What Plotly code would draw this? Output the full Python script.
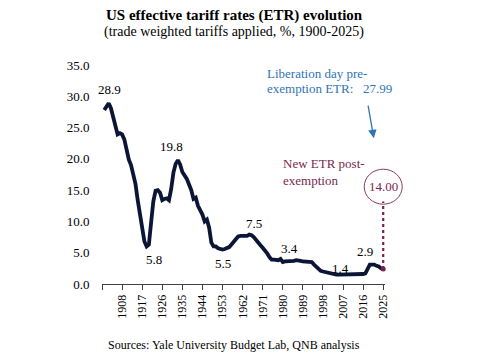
import plotly.graph_objects as go

# ---- data ----
years = list(range(1900, 2026))
etr = [27.8, 28.4, 28.9, 28.1, 26.8, 25.2, 23.9, 24.1, 23.9, 23.1,
       21.3, 19.9, 19.0, 17.7, 16.0, 13.4, 11.4, 9.6, 6.8, 6.0,
       6.3, 9.8, 13.2, 14.9, 15.0, 14.6, 13.4, 13.6, 13.7, 13.4,
       15.2, 17.8, 19.2, 19.8, 19.1, 17.9, 17.3, 16.8, 15.9, 15.0,
       13.6, 13.8, 12.5, 11.9, 11.1, 10.0, 10.3, 9.0, 6.6, 6.0,
       6.0, 5.7, 5.6, 5.5, 5.6, 5.7, 5.9, 6.3, 6.8, 7.3,
       7.6, 7.7, 7.7, 7.8, 7.7, 7.9, 7.8, 7.5, 7.0, 6.6,
       6.2, 5.8, 5.4, 4.9, 4.3, 3.9, 3.9, 3.9, 3.8, 4.0,
       3.5, 3.6, 3.6, 3.6, 3.7, 3.7, 3.8, 3.8, 3.7, 3.6,
       3.6, 3.6, 3.6, 3.5, 3.1, 2.7, 2.3, 2.1, 2.0, 1.9,
       1.8, 1.7, 1.6, 1.55, 1.5, 1.5, 1.5, 1.5, 1.5, 1.5,
       1.5, 1.5, 1.5, 1.5, 1.55, 1.6, 1.6, 1.7, 2.5, 3.1,
       3.1, 3.1, 2.9, 2.8, 2.5, 2.4]

label_years = [1902, 1919, 1933, 1953, 1967, 1980, 2006, 2020]
label_values = [28.9, 5.8, 19.8, 5.5, 7.5, 3.4, 1.4, 2.9]
label_xshift = [1, 7, -6, 0, 0, 7, 0, -7]
label_yshift = [14, -12, 14, -14, 14, 14, 7, 14]

post_year = 2025
post_start = 2.4
post_end = 13.2
post_etr = 14.00
pre_etr = 27.99

tick_years = list(range(1899, 2026, 9))
tick_text = [""] + [str(y) for y in tick_years[1:]]

x_range = [1899, 2025.8]
y_range = [0, 35]

FONT = "Liberation Serif, Times New Roman, serif"
NAVY = "#0B1535"
MAROON = "#7D1F50"
BLUE = "#2E75B6"

fig = go.Figure()
fig.add_trace(go.Scatter(x=years, y=etr, mode="lines",
                         line=dict(color=NAVY, width=3.8, shape="linear"),
                         hoverinfo="skip", showlegend=False))
fig.add_trace(go.Scatter(x=[post_year, post_year], y=[post_start, post_end],
                         mode="lines", line=dict(color=MAROON, width=2.2, dash="dot"),
                         hoverinfo="skip", showlegend=False, cliponaxis=False))
fig.add_trace(go.Scatter(x=[post_year], y=[post_start], mode="markers",
                         marker=dict(color=MAROON, size=5),
                         hoverinfo="skip", showlegend=False, cliponaxis=False))

ann = []
for yv, v, xs, ys in zip(label_years, label_values, label_xshift, label_yshift):
    ann.append(dict(x=yv, y=v, text=f"{v:.1f}", showarrow=False, xshift=xs, yshift=ys,
                    font=dict(family=FONT, size=13, color="#000000")))

# titles & source
ann.append(dict(xref="paper", yref="paper", x=0.467, y=1.228, yanchor="middle",
                text="<b>US effective tariff rates (ETR) evolution</b>",
                showarrow=False, font=dict(family=FONT, size=15, color="#000000")))
ann.append(dict(xref="paper", yref="paper", x=0.467, y=1.151, yanchor="middle",
                text="(trade weighted tariffs applied, %, 1900-2025)",
                showarrow=False, font=dict(family=FONT, size=14, color="#000000")))
ann.append(dict(xref="paper", yref="paper", x=0.467, y=-0.279, yanchor="middle",
                text="Sources: Yale University Budget Lab, QNB analysis",
                showarrow=False, font=dict(family=FONT, size=12, color="#000000")))

# blue annotation
ann.append(dict(x=1972.1, y=33.7, xanchor="left", yanchor="middle", text="Liberation day pre-", showarrow=False,
                font=dict(family=FONT, size=13, color=BLUE)))
ann.append(dict(x=1972.1, y=31.3, xanchor="left", yanchor="middle",
                text="exemption ETR:\u00a0\u00a0 " + f"{pre_etr:.2f}", showarrow=False,
                font=dict(family=FONT, size=13, color=BLUE)))
ann.append(dict(x=2020.8, y=23.3, ax=-6, ay=-34, text="", showarrow=True, arrowhead=2, arrowsize=1.3,
                arrowwidth=1.3, arrowcolor=BLUE, standoff=0))

# maroon annotation
ann.append(dict(x=1979.1, y=19.3, xanchor="left", yanchor="middle", text="New ETR post-", showarrow=False,
                font=dict(family=FONT, size=13, color=MAROON)))
ann.append(dict(x=1979.1, y=16.6, xanchor="left", yanchor="middle", text="exemption", showarrow=False,
                font=dict(family=FONT, size=13, color=MAROON)))
ann.append(dict(x=post_year, y=15.55, yanchor="middle", text=f"{post_etr:.2f}", showarrow=False,
                font=dict(family=FONT, size=13, color=MAROON)))

circle_x = (post_year - x_range[0]) / (x_range[1] - x_range[0])
shapes = [dict(type="circle", xref="paper", yref="y", xsizemode="pixel", ysizemode="pixel",
               xanchor=circle_x, yanchor=15.55, x0=-19, x1=19, y0=-17.5, y1=17.5,
               line=dict(color="#8B3A62", width=1))]

# page body has an 8px default margin: the figure is sized to fit the window exactly
fig.update_layout(
    width=469, height=350,
    margin=dict(l=93.6, r=92, t=57, b=74, autoexpand=False),
    paper_bgcolor="white", plot_bgcolor="white",
    font=dict(family=FONT, size=13, color="#000000"),
    showlegend=False,
    annotations=ann, shapes=shapes,
    xaxis=dict(range=x_range, tickmode="array", tickvals=tick_years, ticktext=tick_text,
               tickangle=-90, ticks="outside", ticklen=5, tickcolor="#404040", tickwidth=1,
               showline=True, linecolor="#404040", linewidth=1, showgrid=False, zeroline=False,
               automargin=False,
               tickfont=dict(family=FONT, size=12, color="#000000")),
    yaxis=dict(range=y_range, tickmode="array", tickvals=[0, 5, 10, 15, 20, 25, 30, 35],
               tickformat=".1f", showline=False, showgrid=False, zeroline=False,
               ticks="outside", ticklen=9, tickcolor="rgba(0,0,0,0)", automargin=False,
               tickfont=dict(family=FONT, size=13, color="#000000")),
)

fig.write_html("out.html")
